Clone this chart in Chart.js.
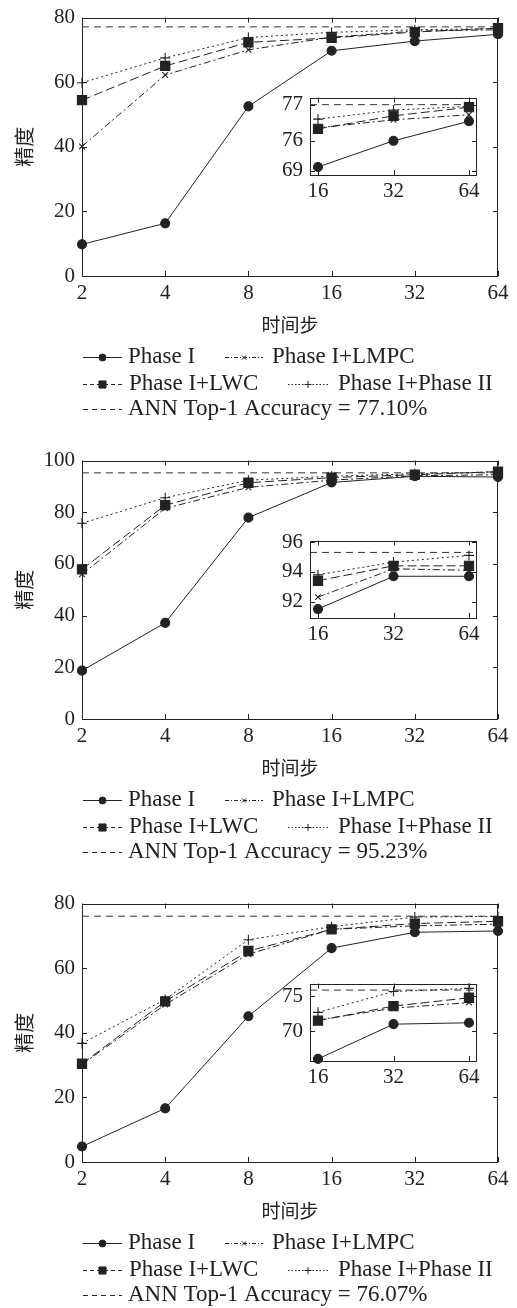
<!DOCTYPE html>
<html>
<head>
<meta charset="utf-8">
<script src="https://cdn.jsdelivr.net/npm/chart.js@4.4.0/dist/chart.umd.min.js"></script>
<style>
  body { margin: 0; background: #fff; width: 517px; height: 1308px; overflow: hidden; position: relative; }
  .panel { position: absolute; left: 0; width: 517px; height: 443px; }
  .panel canvas { position: absolute; }
</style>
</head>
<body>
<div class="panel" style="top:0px"><canvas id="main1" width="517" height="443" style="left:0;top:0"></canvas><canvas id="inset1" width="220" height="125" style="left:270px;top:80px"></canvas></div>
<div class="panel" style="top:443px"><canvas id="main2" width="517" height="443" style="left:0;top:0"></canvas><canvas id="inset2" width="220" height="125" style="left:270px;top:80px"></canvas></div>
<div class="panel" style="top:886px"><canvas id="main3" width="517" height="443" style="left:0;top:0"></canvas><canvas id="inset3" width="220" height="125" style="left:270px;top:80px"></canvas></div>
<script>
// x categories
const steps = ['2', '4', '8', '16', '32', '64'];
const insetSteps = ['16', '32', '64'];
const seriesNames = ['Phase I', 'Phase I+LMPC', 'Phase I+LWC', 'Phase I+Phase II'];

// panel 1
const p1PhaseI = [9.8, 16.3, 52.5, 69.7, 72.7, 74.8];
const p1Lmpc = [40.1, 62.2, 70.0, 73.9, 75.8, 76.2];
const p1Lwc = [54.4, 65.0, 72.3, 73.7, 75.5, 76.7];
const p1Phase2 = [59.8, 67.5, 73.8, 75.4, 76.2, 76.6];
const p1Ann = 77.10;
const p1YTicks = [0, 20, 40, 60, 80];
const in1PhaseI = [69.9, 76.0, 76.54];
const in1Lmpc = [76.36, 76.58, 76.72];
const in1Lwc = [76.33, 76.69, 76.93];
const in1Phase2 = [76.6, 76.85, 76.95];
const in1Ann = 77.0;
const in1YTicks = [69, 76, 77];

// panel 2
const p2PhaseI = [18.7, 37.2, 77.9, 91.5, 93.9, 93.6];
const p2Lmpc = [56.0, 81.5, 89.6, 92.4, 94.1, 94.5];
const p2Lwc = [57.9, 82.7, 91.4, 93.4, 94.5, 95.7];
const p2Phase2 = [75.7, 85.6, 92.4, 93.9, 94.9, 95.6];
const p2Ann = 95.23;
const p2YTicks = [0, 20, 40, 60, 80, 100];
const in2PhaseI = [91.5, 93.7, 93.7];
const in2Lmpc = [92.3, 94.2, 94.1];
const in2Lwc = [93.4, 94.4, 94.4];
const in2Phase2 = [93.8, 94.65, 95.1];
const in2Ann = 95.3;
const in2YTicks = [92, 94, 96];

// panel 3
const p3PhaseI = [4.8, 16.6, 45.1, 66.2, 71.1, 71.5];
const p3Lmpc = [30.2, 48.7, 64.3, 72.0, 73.1, 73.6];
const p3Lwc = [30.4, 49.7, 65.3, 72.0, 73.8, 74.5];
const p3Phase2 = [36.7, 50.3, 68.8, 72.8, 75.8, 76.0];
const p3Ann = 76.07;
const p3YTicks = [0, 20, 40, 60, 80];
const in3PhaseI = [66.0, 71.0, 71.2];
const in3Lmpc = [71.6, 73.3, 74.1];
const in3Lwc = [71.5, 73.6, 74.8];
const in3Phase2 = [72.7, 75.7, 76.15];
const in3Ann = 75.9;
const in3YTicks = [70, 75];

const INK = '#222';
const SERIF = '"Liberation Serif", "Times New Roman", serif';
const CJK = '"Noto Sans CJK SC", sans-serif';

// line / marker style per series
const styles = [
  { dash: [], point: 'circle', r: 4.5, fill: true, key: [], kr: 3.5 },
  { dash: [7, 3, 2, 3], point: 'crossRot', r: 4, fill: false, key: [4, 2, 1, 2], kr: 3 },
  { dash: [9, 4], point: 'rect', r: 6.5, fill: true, key: [4, 3], kr: 5 },
  { dash: [2, 3], point: 'cross', r: 5, fill: false, key: [1.5, 2], kr: 3.5 },
];
const drawOrder = [2, 1, 0, 1];

// the first inset's y axis is broken below 76
const brk = v => v >= 76 ? v : 76 - (76 - v) * 0.1187;
const same = v => v;

// plot frame with inward ticks on all four sides
const frame = {
  id: 'frame',
  beforeDraw(chart, args, opts) {
    if (!opts.white) return;
    const { ctx, chartArea: a } = chart;
    ctx.save();
    ctx.fillStyle = '#fff';
    ctx.fillRect(a.left, a.top, a.width, a.height);
    ctx.restore();
  },
  beforeDatasetsDraw(chart, args, opts) {
    const { ctx, chartArea: a, scales: { x, y } } = chart;
    const t = opts.tick || 5;
    ctx.save();
    ctx.strokeStyle = INK;
    ctx.lineWidth = 1;
    ctx.setLineDash([]);
    ctx.strokeRect(Math.round(a.left) + 0.5, Math.round(a.top) + 0.5, Math.round(a.width) - 1, Math.round(a.height) - 1);
    ctx.beginPath();
    x.ticks.forEach((_, i) => {
      const px = Math.round(x.getPixelForTick(i)) + 0.5;
      ctx.moveTo(px, a.bottom); ctx.lineTo(px, a.bottom - t);
      ctx.moveTo(px, a.top); ctx.lineTo(px, a.top + t);
    });
    y.ticks.forEach((_, i) => {
      const py = Math.round(y.getPixelForTick(i)) + 0.5;
      ctx.moveTo(a.left, py); ctx.lineTo(a.left + t, py);
      ctx.moveTo(a.right, py); ctx.lineTo(a.right - t, py);
    });
    ctx.stroke();
    ctx.restore();
  }
};

// legend block under each panel
const keySlots = [
  { s: 0, x0: 83, x1: 122, tx: 128, y: 357 },
  { s: 1, x0: 225, x1: 263, tx: 272, y: 357 },
  { s: 2, x0: 83, x1: 122, tx: 129, y: 384 },
  { s: 3, x0: 288, x1: 328, tx: 338, y: 384 },
  { s: 4, x0: 83, x1: 122, tx: 128, y: 409 },
];
const keyLegend = {
  id: 'keyLegend',
  afterDraw(chart, args, opts) {
    const ctx = chart.ctx;
    ctx.save();
    ctx.strokeStyle = INK;
    ctx.fillStyle = INK;
    ctx.lineWidth = 1;
    keySlots.forEach(k => {
      const st = styles[k.s];
      ctx.setLineDash(st ? st.key : [5, 4]);
      ctx.beginPath();
      ctx.moveTo(k.x0, k.y + 0.5);
      ctx.lineTo(k.x1, k.y + 0.5);
      ctx.stroke();
      ctx.setLineDash([]);
      if (st) {
        Chart.helpers.drawPoint(ctx, { pointStyle: st.point, radius: st.kr, rotation: 0, borderWidth: 1 }, (k.x0 + k.x1) / 2, k.y + 0.5);
      }
      ctx.font = '23px ' + SERIF;
      ctx.textBaseline = 'middle';
      ctx.fillText(st ? seriesNames[k.s] : opts.annText, k.tx, k.y);
    });
    ctx.restore();
  }
};

function lineSet(label, data, st, i) {
  return {
    label, data,
    borderColor: INK, borderWidth: 1, borderDash: st.dash,
    pointStyle: st.point, pointRadius: st.r, pointBorderWidth: 1.1,
    pointBorderColor: INK, pointBackgroundColor: st.fill ? INK : 'rgba(0,0,0,0)',
    tension: 0, clip: false, order: drawOrder[i]
  };
}

const tickFont = { family: SERIF, size: 21, lineHeight: 1 };
const noGrid = { display: false, drawTicks: false };

function mainChart(id, series, ann, yTicks, annText) {
  const sets = series.map((d, i) => lineSet(seriesNames[i], d, styles[i], i));
  sets.push({
    label: 'ANN', data: steps.map(() => ann),
    borderColor: '#333', borderWidth: 1, borderDash: [7, 5], pointRadius: 0, clip: false, order: 3
  });
  new Chart(document.getElementById(id), {
    type: 'line',
    data: { labels: steps, datasets: sets },
    options: {
      responsive: false,
      animation: false,
      layout: { padding: { top: 10, right: 19, bottom: 103, left: 0 } },
      plugins: {
        legend: { display: false },
        tooltip: { enabled: false },
        frame: { tick: 5 },
        keyLegend: { annText }
      },
      scales: {
        x: {
          type: 'category', offset: false,
          grid: noGrid, border: { display: false },
          ticks: { font: tickFont, color: INK, padding: 7, maxRotation: 0, autoSkip: false },
          title: { display: true, text: '时间步', color: INK, font: { family: CJK, size: 19 }, padding: { top: 0, bottom: 4 } },
          afterFit: s => { s.height = 64; }
        },
        y: {
          min: yTicks[0], max: yTicks[yTicks.length - 1],
          grid: noGrid, border: { display: false },
          ticks: { font: tickFont, color: INK, padding: 7, stepSize: 20 },
          title: { display: true, text: '精度', color: INK, font: { family: CJK, size: 20 }, padding: { top: 12, bottom: 0 } },
          afterFit: s => { s.width = 82; }
        }
      }
    },
    plugins: [frame, keyLegend]
  });
}

function insetChart(id, series, ann, yTicks, yMin, yMax, map) {
  const xMin = -0.106, xMax = 2.106;
  const sets = series.map((d, i) => lineSet(seriesNames[i], d.map((v, j) => ({ x: j, y: map(v) })), styles[i], i));
  sets.push({
    label: 'ANN', data: [{ x: xMin, y: map(ann) }, { x: xMax, y: map(ann) }],
    borderColor: '#333', borderWidth: 1, borderDash: [7, 5], pointRadius: 0, order: 3
  });
  new Chart(document.getElementById(id), {
    type: 'line',
    data: { datasets: sets },
    options: {
      responsive: false,
      animation: false,
      layout: { padding: { top: 14, right: 13, bottom: 0, left: 0 } },
      plugins: {
        legend: { display: false },
        tooltip: { enabled: false },
        frame: { tick: 5, white: true }
      },
      scales: {
        x: {
          type: 'linear', min: xMin, max: xMax,
          grid: noGrid, border: { display: false },
          afterBuildTicks: s => { s.ticks = insetSteps.map((_, j) => ({ value: j })); },
          ticks: { font: tickFont, color: INK, padding: 6, maxRotation: 0, callback: v => insetSteps[v] },
          afterFit: s => { s.height = 30; }
        },
        y: {
          type: 'linear', min: yMin, max: yMax,
          grid: noGrid, border: { display: false },
          afterBuildTicks: s => { s.ticks = yTicks.map(v => ({ value: map(v) })); },
          ticks: { font: tickFont, color: INK, padding: 7, callback: (v, i) => String(yTicks[i]) },
          afterFit: s => { s.width = 40; }
        }
      }
    },
    plugins: [frame]
  });
}

mainChart('main1', [p1PhaseI, p1Lmpc, p1Lwc, p1Phase2], p1Ann, p1YTicks, 'ANN Top-1 Accuracy = 77.10%');
mainChart('main2', [p2PhaseI, p2Lmpc, p2Lwc, p2Phase2], p2Ann, p2YTicks, 'ANN Top-1 Accuracy = 95.23%');
mainChart('main3', [p3PhaseI, p3Lmpc, p3Lwc, p3Phase2], p3Ann, p3YTicks, 'ANN Top-1 Accuracy = 76.07%');

insetChart('inset1', [in1PhaseI, in1Lmpc, in1Lwc, in1Phase2], in1Ann, in1YTicks, brk(69) - 0.115, 77.198, brk);
insetChart('inset2', [in2PhaseI, in2Lmpc, in2Lwc, in2Phase2], in2Ann, in2YTicks, 90.9, 96.1, same);
insetChart('inset3', [in3PhaseI, in3Lmpc, in3Lwc, in3Phase2], in3Ann, in3YTicks, 65.7, 76.85, same);
</script>
</body>
</html>
